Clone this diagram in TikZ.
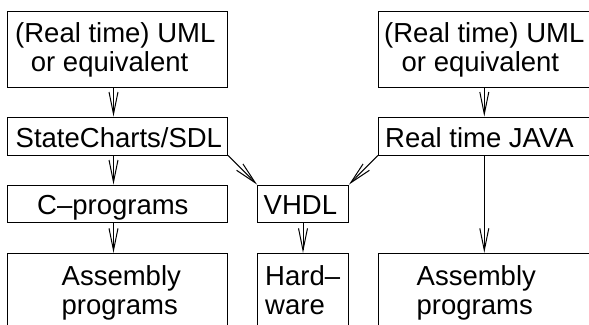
\documentclass[tikz,border=0pt]{standalone}
\usepackage{fontspec}
\setmainfont{Liberation Sans}
\usetikzlibrary{arrows.meta}
\tikzset{
  stagebox/.style={rectangle, draw=black, line width=1bp, inner sep=0pt},
  stagetext/.style={align=left, inner sep=0pt, anchor=base west,
    font=\fontsize{27.5bp}{29bp}\selectfont},
  flowarrow/.style={-{Straight Barb[length=22bp,width=9bp]}, draw=black, line width=1bp},
}
\begin{document}
\begin{tikzpicture}[x=1bp,y=1bp]
  \useasboundingbox (0,0) rectangle (589,324);
  \clip (0,0) rectangle (589,324);

  % --- Software path (left column) ---
  \node[stagebox, minimum width=220.4bp, minimum height=75.6bp] (umlL) at (117.5,274.5) {};
  \node[stagebox, minimum width=220.4bp, minimum height=38bp] (scL) at (117.5,188) {};
  \node[stagebox, minimum width=220.4bp, minimum height=37.7bp] (cprog) at (117.5,120.15) {};
  \node[stagebox, minimum width=220.4bp, minimum height=106.7bp] (asmL) at (117.5,17.35) {};

  % --- Hardware path (middle) ---
  \node[stagebox, minimum width=91bp, minimum height=37.7bp] (vhdl) at (303,120.15) {};
  \node[stagebox, minimum width=91bp, minimum height=106.7bp] (hw) at (303,17.35) {};

  % --- Java path (right column) ---
  \node[stagebox, minimum width=221.7bp, minimum height=75.6bp] (umlR) at (489.15,274.5) {};
  \node[stagebox, minimum width=221.7bp, minimum height=38bp] (java) at (489.15,188) {};
  \node[stagebox, minimum width=221.7bp, minimum height=106.7bp] (asmR) at (489.15,17.35) {};

  % --- Texts (base = last line) ---
  \node[stagetext] (umlLtxt) at (15,252.3) {(Real time) UML\\\hspace*{15.7bp}or equivalent};
  \node[stagetext] (scLtxt) at (15.5,176.5) {StateCharts/SDL};
  \node[stagetext] (cprogtxt) at (37,109.5) {C–programs};
  \node[stagetext] (asmLtxt) at (61.5,10) {Assembly\\programs};
  \node[stagetext] (vhdltxt) at (263.5,109.5) {VHDL};
  \node[stagetext] (hwtxt) at (265,10) {Hard–\\ware};
  \node[stagetext] (umlRtxt) at (384,252.3) {(Real time) UML\\\hspace*{17.5bp}or equivalent};
  \node[stagetext] (javatxt) at (385,177) {Real time JAVA};
  \node[stagetext] (asmRtxt) at (416.5,10) {Assembly\\programs};

  % --- Arrows ---
  \coordinate (colL) at (113.5,0);
  \coordinate (colR) at (484.3,0);
  \draw[flowarrow] (umlL.south -| colL) -- (scL.north -| colL);
  \draw[flowarrow] (scL.south -| colL) -- (cprog.north -| colL);
  \draw[flowarrow] (cprog.south -| colL) -- (asmL.north -| colL);
  \draw[flowarrow] (scL.south east) -- (vhdl.north west);
  \draw[flowarrow] (java.south west) -- (vhdl.north east);
  \draw[flowarrow] (vhdl.south) -- (hw.north);
  \draw[flowarrow] (umlR.south -| colR) -- (java.north -| colR);
  \draw[flowarrow] (java.south -| colR) -- (asmR.north -| colR);
\end{tikzpicture}
\end{document}
